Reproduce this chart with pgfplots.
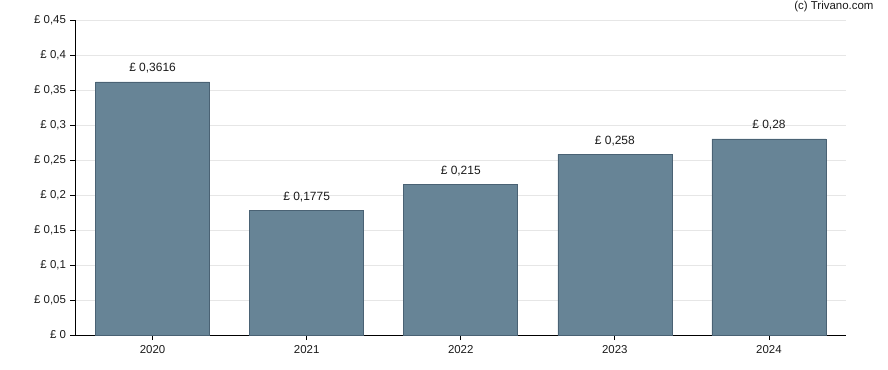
\documentclass[border=0pt]{standalone}
\usepackage{pgfplots}
\pgfplotsset{compat=1.18}
\usepackage{fontspec}
\setmainfont{Liberation Sans}
\definecolor{barfill}{HTML}{678496}
\definecolor{baredge}{HTML}{4A6274}
\definecolor{gridc}{HTML}{E6E6E6}
\definecolor{txt}{HTML}{1A1A1A}
\begin{document}
\begin{tikzpicture}
\useasboundingbox (-75.5bp,-35bp) rectangle (812.5bp,335bp);
\begin{axis}[
  at={(0,0)}, anchor=south west,
  scale only axis, width=770.5bp, height=315bp,
  xmin=-0.5, xmax=4.5, ymin=0, ymax=0.45,
  axis x line=bottom, axis y line=left,
  axis line style={-, black, line width=0.8pt},
  xtick={0,1,2,3,4},
  xticklabels={2020,2021,2022,2023,2024},
  ytick={0,0.05,0.1,0.15,0.2,0.25,0.3,0.35,0.4,0.45},
  yticklabels={£ 0,£ 0{,}05,£ 0{,}1,£ 0{,}15,£ 0{,}2,£ 0{,}25,£ 0{,}3,£ 0{,}35,£ 0{,}4,£ 0{,}45},
  tick align=outside, tick style={black, line width=0.8pt},
  major tick length=5bp,
  ymajorgrids, grid style={gridc, line width=0.6pt},
  tick label style={font=\fontsize{11.5}{13}\selectfont, text=txt},
  xticklabel style={yshift=-2bp},
  yticklabel style={xshift=-1bp},
  ybar, bar width=0.74,
  nodes near coords,
  point meta=explicit symbolic,
  every node near coord/.append style={font=\fontsize{12}{14}\selectfont, text=txt, yshift=5bp},
  clip=false,
]
\addplot[fill=barfill, draw=baredge, line width=0.6pt] coordinates {
  (0,0.3616) [£ 0{,}3616]
  (1,0.1775) [£ 0{,}1775]
  (2,0.215) [£ 0{,}215]
  (3,0.258) [£ 0{,}258]
  (4,0.28) [£ 0{,}28]
};
\node[anchor=east, font=\fontsize{11.5}{13}\selectfont, text=txt] at ([shift={(31bp,13bp)}]rel axis cs:1,1) {(c) Trivano.com};
\end{axis}
\end{tikzpicture}
\end{document}
